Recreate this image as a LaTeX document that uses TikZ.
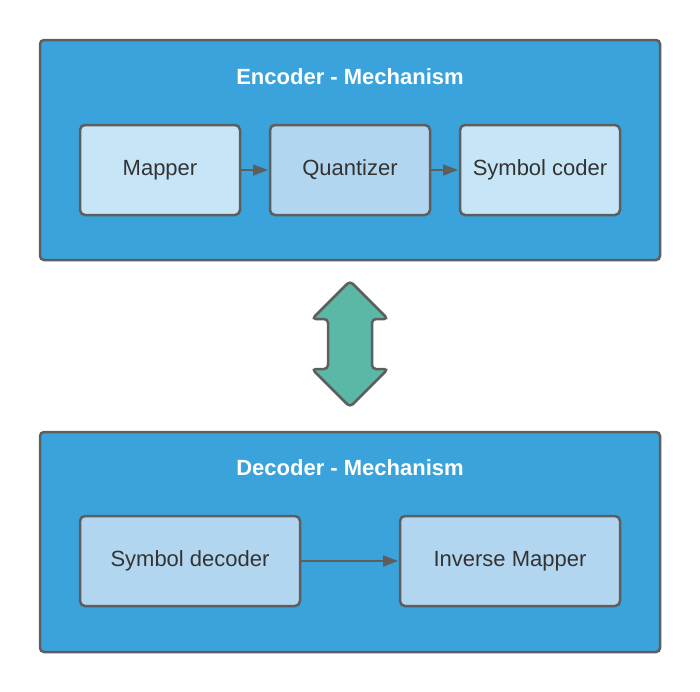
\documentclass[tikz,border=0pt]{standalone}
\usepackage{fontspec}
\setmainfont{Liberation Sans}
\usetikzlibrary{positioning,arrows.meta}
\definecolor{mechblue}{HTML}{3AA3DC}
\definecolor{lightbox}{HTML}{C6E6F8}
\definecolor{midbox}{HTML}{B3D6F0}
\definecolor{edgegray}{HTML}{5E5E5E}
\definecolor{linkgreen}{HTML}{5BB8A6}
\definecolor{textgray}{HTML}{333333}
\begin{document}
\begin{tikzpicture}[x=1pt,y=-1pt,
  mechanism/.style = {draw=edgegray, fill=mechblue, line width=2.5pt, rounded corners=4pt, minimum width=620pt, minimum height=220pt},
  title/.style = {text=white, font=\fontsize{22}{26}\selectfont\bfseries},
  block/.style = {draw=edgegray, line width=2.5pt, rounded corners=5pt, minimum height=90pt, outer sep=0pt, text=textgray, font=\fontsize{22}{26}\selectfont},
  flow/.style = {draw=edgegray, line width=1.8pt, -{Triangle[length=15pt,width=11pt]}, shorten >=2pt}]
\useasboundingbox (0,0) rectangle (700,691);
\node [mechanism] (enc) at (350,150) {};
\node [title] (enctitle) at (350,77) {Encoder - Mechanism};
\node [block, fill=lightbox, minimum width=160pt] (mapper) at (160,170) {Mapper};
\node [block, fill=midbox, minimum width=160pt, right=30pt of mapper] (quant) {Quantizer};
\node [block, fill=lightbox, minimum width=160pt, right=30pt of quant] (coder) {Symbol coder};
\draw [flow] (mapper) -- (quant);
\draw [flow] (quant) -- (coder);
\draw [draw=edgegray, fill=linkgreen, line width=2.5pt, rounded corners=4pt]
  (350,281) -- (388,319) -- (372,319) -- (372,369) -- (388,369) -- (350,407)
  -- (312,369) -- (328,369) -- (328,319) -- (312,319) -- cycle;
\node [mechanism] (dec) at (350,542) {};
\node [title] (dectitle) at (350,468) {Decoder - Mechanism};
\node [block, fill=midbox, minimum width=220pt] (decoder) at (190,561) {Symbol decoder};
\node [block, fill=midbox, minimum width=220pt, right=100pt of decoder] (inverse) {Inverse Mapper};
\draw [flow] (decoder) -- (inverse);
\end{tikzpicture}
\end{document}
